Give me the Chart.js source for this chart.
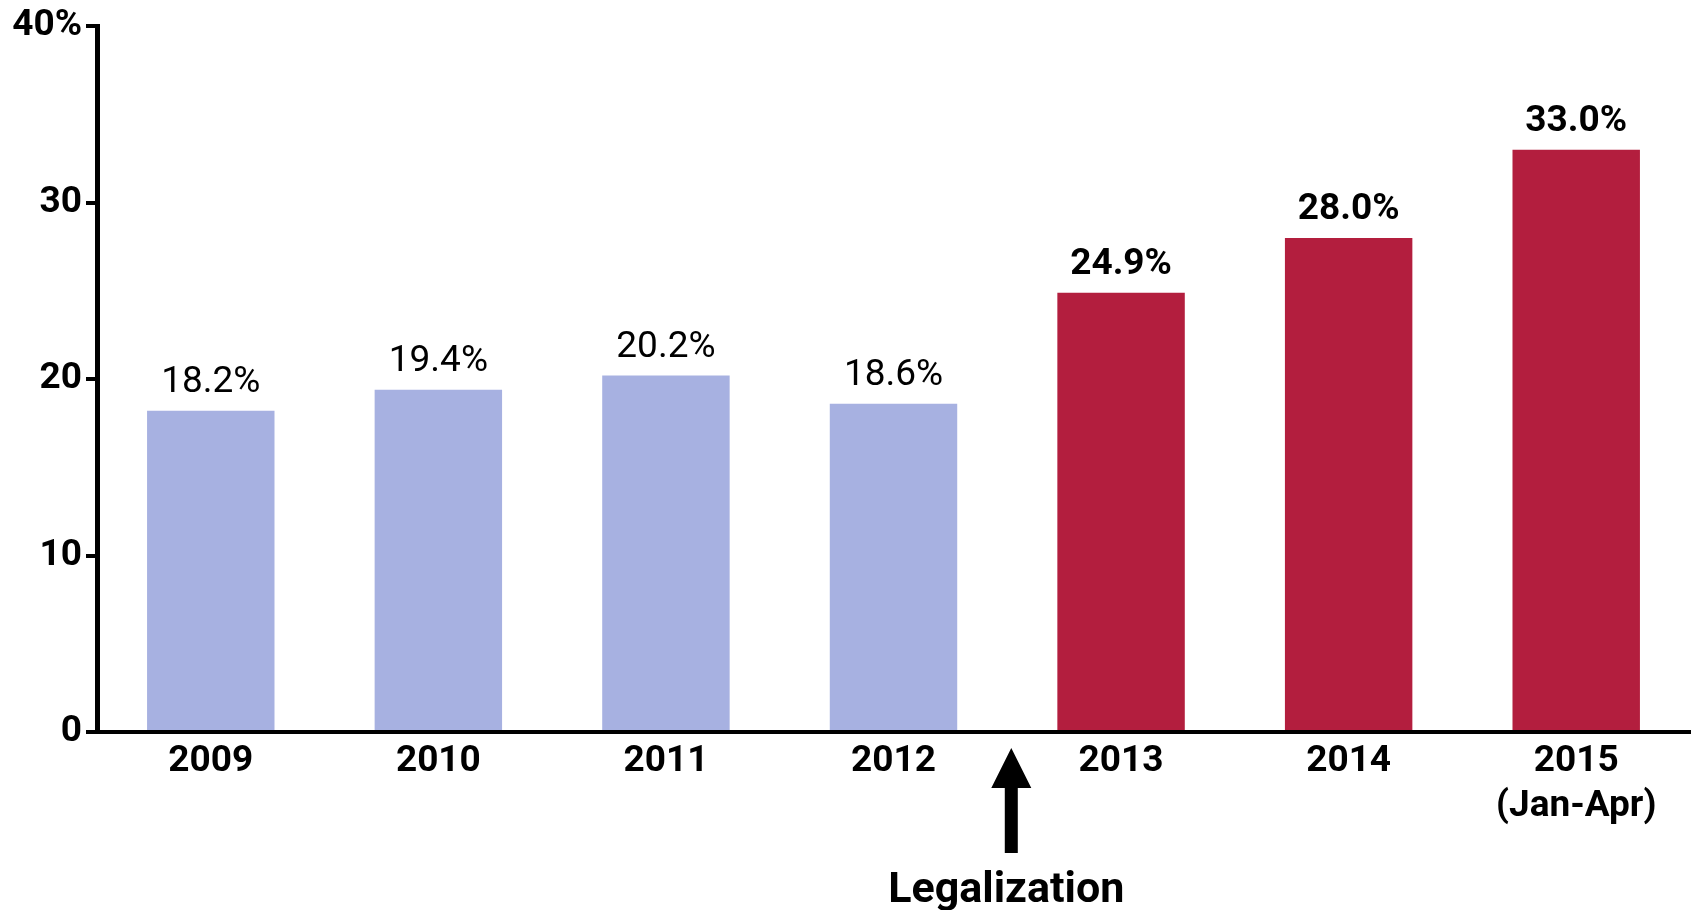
<!DOCTYPE html>
<html>
<head>
<meta charset="utf-8">
<script src="https://cdn.jsdelivr.net/npm/chart.js@4"></script>
<style>
  html, body { margin: 0; padding: 0; background: #fff; }
  #wrap { width: 1692px; height: 910px; position: relative; }
</style>
</head>
<body>
<div id="wrap"><canvas id="c" width="1692" height="910"></canvas></div>
<script>
const categories = ['2009', '2010', '2011', '2012', '2013', '2014', ['2015', '(Jan-Apr)']];
const shareValues = [18.2, 19.4, 20.2, 18.6, 24.9, 28.0, 33.0];
const period = ['before', 'before', 'before', 'before', 'after', 'after', 'after'];
const yTickValues = [0, 10, 20, 30, 40];
const yTickLabels = ['0', '10', '20', '30', '40%'];
const eventLabel = 'Legalization';

const COLORS = { before: '#A7B1E1', after: '#B31E3E' };
const FONT = 'Roboto';

const valueLabels = {
  id: 'valueLabels',
  afterDatasetsDraw(chart) {
    const ctx = chart.ctx;
    const meta = chart.getDatasetMeta(0);
    ctx.save();
    ctx.textAlign = 'center';
    ctx.textBaseline = 'alphabetic';
    ctx.fillStyle = '#000';
    meta.data.forEach((bar, i) => {
      const bold = period[i] === 'after';
      ctx.font = (bold ? 'bold ' : '') + '37px ' + FONT;
      ctx.fillText(shareValues[i].toFixed(1) + '%', bar.x, bar.y - 19);
    });
    ctx.restore();
  }
};

const eventArrow = {
  id: 'eventArrow',
  afterDraw(chart) {
    const ctx = chart.ctx;
    const xs = chart.scales.x;
    const x = (xs.getPixelForValue(3) + xs.getPixelForValue(4)) / 2 + 4;
    const b = chart.chartArea.bottom;
    ctx.save();
    ctx.fillStyle = '#000';
    ctx.beginPath();
    ctx.moveTo(x, b + 16);
    ctx.lineTo(x + 20, b + 56);
    ctx.lineTo(x + 6.5, b + 56);
    ctx.lineTo(x + 6.5, b + 121);
    ctx.lineTo(x - 6.5, b + 121);
    ctx.lineTo(x - 6.5, b + 56);
    ctx.lineTo(x - 20, b + 56);
    ctx.closePath();
    ctx.fill();
    ctx.font = 'bold 43px ' + FONT;
    ctx.textAlign = 'center';
    ctx.textBaseline = 'alphabetic';
    ctx.fillText(eventLabel, x - 5, b + 170);
    ctx.restore();
  }
};

new Chart(document.getElementById('c'), {
  type: 'bar',
  data: {
    labels: categories,
    datasets: [{
      data: shareValues,
      backgroundColor: period.map(p => COLORS[p]),
      borderWidth: 0,
      categoryPercentage: 1.0,
      barPercentage: 0.56
    }]
  },
  options: {
    responsive: false,
    animation: false,
    devicePixelRatio: 1,
    layout: { padding: { top: 0, right: 2, left: 0, bottom: 0 } },
    plugins: { legend: { display: false }, tooltip: { enabled: false } },
    scales: {
      x: {
        grid: { display: false, drawTicks: false },
        border: { display: true, color: '#000', width: 4 },
        ticks: {
          color: '#000',
          font: { family: FONT, size: 37, weight: 'bold', lineHeight: 1.22 },
          padding: 7,
          maxRotation: 0,
          autoSkip: false
        },
        afterFit(s) { s.height = 178; }
      },
      y: {
        min: 0,
        max: 40,
        afterBuildTicks(s) { s.ticks = yTickValues.map(v => ({ value: v })); },
        grid: { drawOnChartArea: false, drawTicks: true, tickLength: 11, color: '#000', lineWidth: 4 },
        border: { display: true, color: '#000', width: 5 },
        ticks: {
          color: '#000',
          font: { family: FONT, size: 37, weight: 'bold' },
          padding: 4,
          callback(v) { const i = yTickValues.indexOf(v); return i >= 0 ? yTickLabels[i] : ''; }
        },
        afterFit(s) { s.width = 97; }
      }
    }
  },
  plugins: [valueLabels, eventArrow]
});
</script>
</body>
</html>
